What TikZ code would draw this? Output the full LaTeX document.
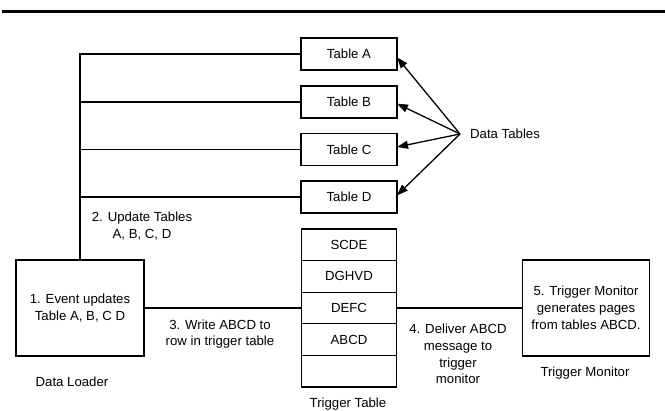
\documentclass[tikz,border=0pt]{standalone}
\usepackage{fontspec}
\setmainfont{Liberation Sans}
\usetikzlibrary{arrows.meta}
\usetikzlibrary{positioning}

\tikzset{
  box/.style={draw, line width=1.3pt, minimum width=96pt, minimum height=32pt, inner sep=2pt, outer sep=0pt},
  row/.style={box, minimum width=95pt, minimum height=31.6pt},
  proc/.style={draw, line width=1.3pt, minimum height=96pt, align=center, outer sep=0pt},
  note/.style={align=center, inner sep=0pt},
  wire/.style={line width=1.3pt},
  pointer/.style={line width=1.3pt, -{Triangle[length=11pt,width=8pt]}}
}

\begin{document}
\begin{tikzpicture}[x=1pt, y=-1pt, font=\fontsize{13.2}{16.8}\selectfont]
        \useasboundingbox (0,0) rectangle (665,411);
        \draw [line width=3pt] (2,11.5) -- (665,11.5);
        % data tables
        \node [box] (tA) at (349,54) {Table A};
        \node [box] (tB) [below=16pt of tA] {Table B};
        \node [box] (tC) [below=15.5pt of tB] {Table C};
        \node [box] (tD) [below=15.5pt of tC] {Table D};
        \coordinate (hub) at (460,134);
        \node [inner sep=0pt] (dtab) [right=10pt of hub] {Data Tables};
        % trigger table
        \node [row] (r1) [below=16pt of tD] {SCDE};
        \node [row] (r2) [below=0pt of r1] {DGHVD};
        \node [row] (r3) [below=0pt of r2] {DEFC};
        \node [row] (r4) [below=0pt of r3] {ABCD};
        \node [row] (r5) [below=0pt of r4] {};
        % loader and monitor
        \node [proc, minimum width=128pt] (loader) at (80,308) {1. Event updates\\Table A, B, C D};
        \node [proc, minimum width=127pt] (monitor) [right=126pt of r3] {5. Trigger Monitor\\generates pages\\from tables ABCD.};
        % labels
        \node [note] (lload) at (72,382) {Data Loader};
        \node [note] (ltrig) at (348,404) {Trigger Table};
        \node [note] (lmon) at (585,373) {Trigger Monitor};
        \node [note] (s2) at (142,226) {2. Update Tables\\A, B, C, D};
        \node [note] (s3) at (220,334) {3. Write ABCD to\\row in trigger table};
        \node [note] (s4) at (458,354) {4. Deliver ABCD\\message to\\trigger\\monitor};
        \draw [wire] (tA.west) -| (loader.north);
        \draw [wire] (tB.west) -- (tB.west -| loader.north);
        \draw [wire] (tC.west) -- (tC.west -| loader.north);
        \draw [wire] (tD.west) -- (tD.west -| loader.north);
        \draw [wire] (loader) -- (r3);
        \draw [wire] (r3) -- (monitor);
        \path [pointer]
            (hub) edge (tA.-4)
            (hub) edge (tB.-2.4)
            (hub) edge (tC.3)
            (hub) edge (tD.2.4);
    \end{tikzpicture}
\end{document}
